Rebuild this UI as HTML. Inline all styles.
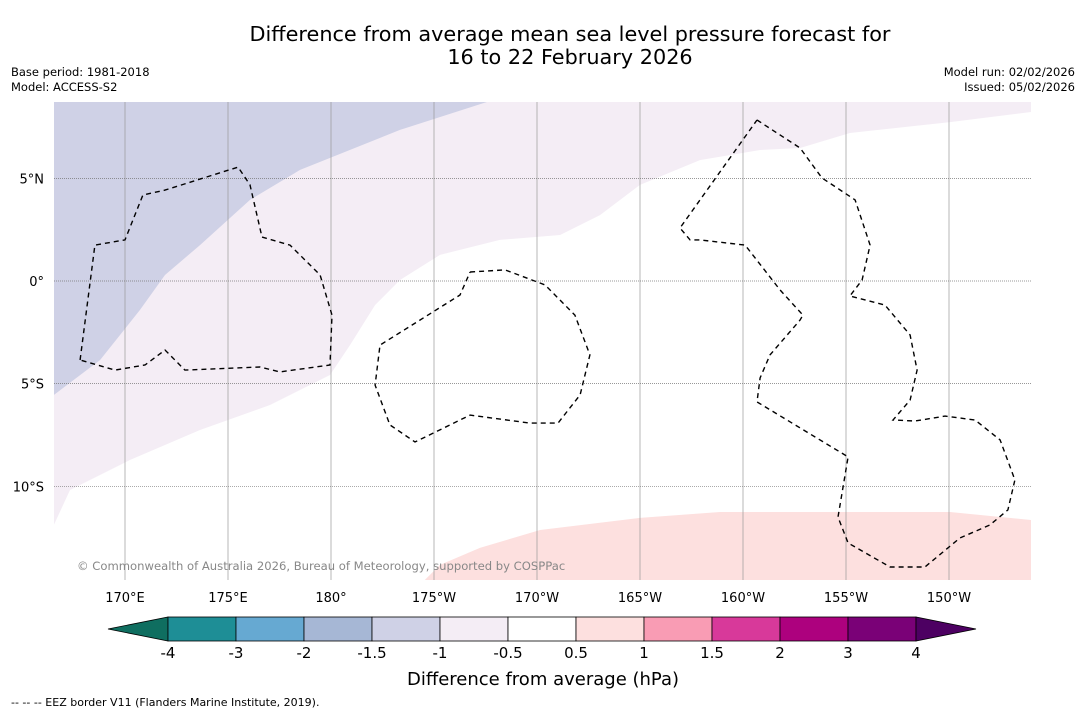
<!DOCTYPE html>
<html><head><meta charset="utf-8"><style>
body{margin:0;background:#fff;width:1085px;height:713px;overflow:hidden;font-family:"DejaVu Sans","Liberation Sans",sans-serif}
svg text{font-family:"DejaVu Sans","Liberation Sans",sans-serif}
</style></head><body>
<svg id="c" width="1085" height="713" xmlns="http://www.w3.org/2000/svg">
<text x="570" y="41" font-size="20.8" text-anchor="middle">Difference from average mean sea level pressure forecast for</text>
<text x="570" y="64" font-size="20.8" text-anchor="middle">16 to 22 February 2026</text>
<text x="11" y="76" font-size="11.5">Base period: 1981-2018</text>
<text x="11" y="91" font-size="11.5">Model: ACCESS-S2</text>
<text x="1075" y="76" font-size="11.5" text-anchor="end">Model run: 02/02/2026</text>
<text x="1075" y="91" font-size="11.5" text-anchor="end">Issued: 05/02/2026</text>
<defs><clipPath id="mc"><rect x="54" y="102" width="977" height="478"/></clipPath></defs>
<g id="map" clip-path="url(#mc)"></g>
<g id="grid"></g>
<g id="eez"></g>
<g id="axes"></g>
<text x="77" y="570" font-size="11.6" fill="#888">© Commonwealth of Australia 2026, Bureau of Meteorology, supported by COSPPac</text>
<g id="cbar"></g>
<text x="543" y="685" font-size="18" text-anchor="middle">Difference from average (hPa)</text>
<text x="11" y="706" font-size="11">--  --  -- EEZ border V11 (Flanders Marine Institute, 2019).</text>
</svg>
<script>
const lonTicks=[170,175,180,185,190,195,200,205,210];
const lonLabels=["170°E","175°E","180°","175°W","170°W","165°W","160°W","155°W","150°W"];
const latTicks=[5,0,-5,-10];
const latLabels=["5°N","0°","5°S","10°S"];
const negLonLat=[[166.55,-5.55],[168.79,-3.85],[170.73,-1.41],[171.94,0.29],[173.64,1.75],[176.07,3.95],[178.5,5.41],[183.35,7.36],[187.57,8.72]];
const weakNegLonLat=[[166.55,-11.88],[167.33,-10.18],[170.24,-8.72],[173.64,-7.26],[177.04,-6.04],[179.95,-4.58],[180.92,-3.12],[182.14,-1.17],[183.35,0.05],[185.29,1.27],[188.2,2.0],[191.12,2.24],[193.06,3.21],[195.0,4.68],[197.91,5.89],[200.83,6.38],[202.77,6.48],[205.19,7.21],[210.05,7.74],[213.98,8.23]];
const weakPosLonLat=[[184.56,-14.56],[185.29,-13.83],[187.23,-13.0],[190.15,-12.13],[195.0,-11.54],[198.88,-11.25],[202.77,-11.25],[210.05,-11.25],[213.98,-11.64]];
const gilbertEEZ=[[167.82,-3.85],[168.54,1.75],[170.0,2.0],[170.87,4.19],[171.94,4.43],[175.49,5.55],[176.07,4.68],[176.65,2.14],[178.01,1.75],[179.47,0.29],[180.05,-1.66],[179.95,-4.09],[177.52,-4.43],[176.55,-4.19],[172.91,-4.34],[171.94,-3.36],[170.97,-4.09],[169.51,-4.34],[167.82,-3.85]];
const phoenixEEZ=[[186.75,0.44],[188.45,0.54],[190.39,-0.19],[191.84,-1.66],[192.57,-3.6],[192.09,-5.55],[191.02,-6.92],[189.66,-6.92],[186.75,-6.53],[184.08,-7.84],[182.86,-7.01],[182.14,-5.07],[182.38,-3.12],[186.26,-0.68],[186.75,0.44]];
const lineEEZ=[[200.68,7.84],[202.77,6.48],[203.83,5.02],[205.44,3.95],[206.17,1.75],[205.78,0.05],[205.19,-0.73],[206.89,-1.17],[208.11,-2.63],[208.45,-4.34],[208.11,-5.8],[207.28,-6.77],[208.35,-6.82],[209.81,-6.58],[211.26,-6.77],[212.48,-7.74],[213.2,-9.69],[212.86,-11.15],[211.99,-11.88],[210.53,-12.52],[208.83,-13.93],[207.14,-13.93],[205.1,-12.76],[204.61,-11.5],[205.1,-8.57],[200.68,-5.89],[200.83,-4.72],[201.31,-3.6],[202.77,-1.9],[202.91,-1.66],[201.8,-0.44],[200.1,1.75],[197.91,2.0],[197.43,2.0],[196.94,2.58],[200.68,7.84]];
const cbLevels=["-4","-3","-2","-1.5","-1","-0.5","0.5","1","1.5","2","3","4"];
const cbColors=["#1e8e96","#66a9d2","#a6b7d5","#cfd1e6","#f4edf5","#ffffff","#fde0df","#f99cb4","#d8399a","#ad017e","#7a0177"];
const NS="http://www.w3.org/2000/svg";
const X=lon=>125+(lon-170)*20.6, Y=lat=>281-lat*20.53;
function mk(t,a,p){const e=document.createElementNS(NS,t);for(const k in a)e.setAttribute(k,a[k]);p.appendChild(e);return e;}
const pts=a=>a.map(p=>X(p[0]).toFixed(1)+","+Y(p[1]).toFixed(1)).join(" ");
const map=document.getElementById('map');
const bg=mk('rect',{x:54,y:102,width:977,height:478,fill:'#fff'},map);


const w=mk('polygon',{points:pts(weakNegLonLat)+" 1040,90 40,90",fill:'#f4edf5'},map);


const n=mk('polygon',{points:pts(negLonLat)+" 40,90",fill:'#cfd1e6'},map);


const p=mk('polygon',{points:pts(weakPosLonLat)+" 1040,600 420,600",fill:'#fde0df'},map);


const grid=document.getElementById('grid'),axes=document.getElementById('axes');
lonTicks.forEach((l,i)=>{const g=mk('line',{x1:X(l),x2:X(l),y1:102,y2:580,stroke:'#999','stroke-width':0.7},grid);


const t=mk('text',{x:X(l),y:602,'font-size':13,'text-anchor':'middle'},axes);t.textContent=lonLabels[i];

});
latTicks.forEach((l,i)=>{const g=mk('line',{x1:54,x2:1031,y1:Y(l),y2:Y(l),stroke:'#777','stroke-width':0.7,'stroke-dasharray':'1,1'},grid);


const t=mk('text',{x:44,y:Y(l)+5,'font-size':13,'text-anchor':'end'},axes);t.textContent=latLabels[i];

});
const eez=document.getElementById('eez');
[[gilbertEEZ,'gilbert-eez'],[phoenixEEZ,'phoenix-eez'],[lineEEZ,'line-islands-eez']].forEach(([a,nm])=>{
const e=mk('polyline',{points:pts(a),fill:'none',stroke:'#000','stroke-width':1.4,'stroke-dasharray':'5,4'},eez);

});
const cb=document.getElementById('cbar');const x0=168,bw=68,y0=617,h=24;
const lo=mk('polygon',{points:`108,${y0+h/2} ${x0},${y0} ${x0},${y0+h}`,fill:'#0f6e60',stroke:'#000','stroke-width':0.8},cb);


cbColors.forEach((c,i)=>{const r=mk('rect',{x:x0+i*bw,y:y0,width:bw,height:h,fill:c,stroke:'#000','stroke-width':0.8},cb);

});
const xe=x0+cbColors.length*bw;
const hi=mk('polygon',{points:`${xe},${y0} ${xe},${y0+h} ${xe+60},${y0+h/2}`,fill:'#4d0062',stroke:'#000','stroke-width':0.8},cb);


cbLevels.forEach((l,i)=>{const t=mk('text',{x:x0+i*bw,y:658,'font-size':15,'text-anchor':'middle'},cb);t.textContent=l;

});
</script>
</body></html>
